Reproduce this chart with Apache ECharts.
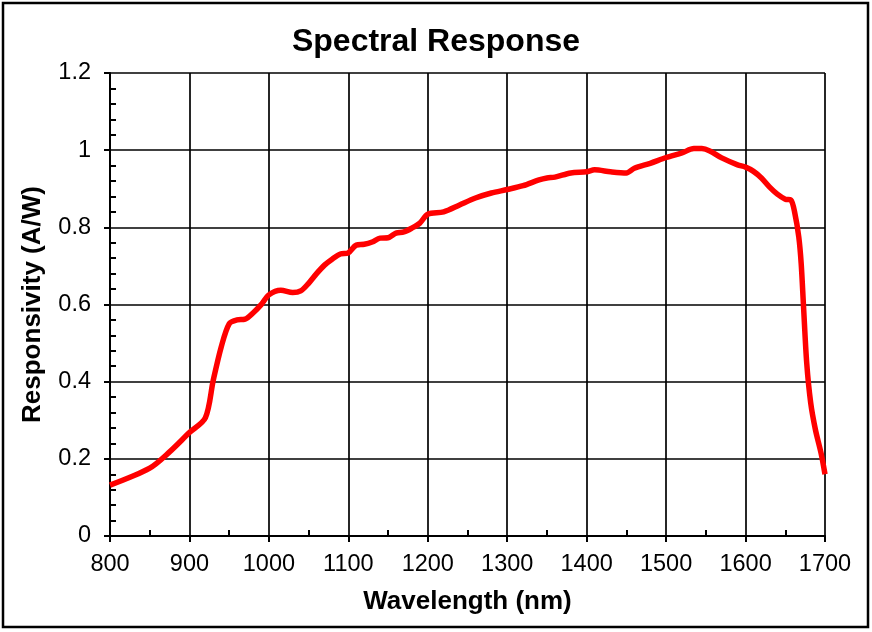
<!DOCTYPE html>
<html>
<head>
<meta charset="utf-8">
<script src="https://cdn.jsdelivr.net/npm/echarts@6/dist/echarts.min.js"></script>
<style>html,body{margin:0;padding:0;background:#fff;}#c{width:872px;height:632px;}</style>
</head>
<body>
<div id="c"></div>
<script>
const wavelengths = [800,850,875,900,920,930,940,950,960,970,980,990,1000,1015,1030,1040,1050,1060,1070,1080,1090,1100,1110,1120,1130,1140,1150,1160,1170,1180,1190,1200,1220,1240,1260,1280,1300,1320,1340,1350,1360,1380,1400,1410,1430,1450,1460,1480,1500,1520,1535,1545,1555,1570,1590,1600,1610,1620,1630,1640,1650,1657,1662,1667,1670,1673,1677,1682,1688,1695,1700];
const responsivity = [0.132,0.176,0.218,0.268,0.306,0.404,0.49,0.55,0.56,0.562,0.578,0.599,0.625,0.637,0.631,0.635,0.655,0.68,0.702,0.718,0.731,0.734,0.754,0.756,0.762,0.772,0.773,0.785,0.788,0.798,0.811,0.834,0.84,0.858,0.876,0.889,0.898,0.908,0.923,0.928,0.93,0.941,0.944,0.949,0.944,0.941,0.953,0.966,0.981,0.993,1.004,1.004,0.998,0.98,0.962,0.956,0.945,0.928,0.905,0.886,0.873,0.871,0.837,0.775,0.707,0.594,0.448,0.345,0.275,0.215,0.16];
const titleText = "Spectral Response";
const xName = "Wavelength (nm)";
const yName = "Responsivity (A/W)";

const chart = echarts.init(document.getElementById('c'));
const font = '"Liberation Sans", Arial, sans-serif';
chart.setOption({
  animation: false,
  backgroundColor: '#fff',
  title: {
    text: titleText, left: 'center', top: 21,
    textStyle: {fontFamily: font, fontSize: 32, fontWeight: 'bold', color: '#000'}
  },
  grid: {left: 110, right: 47, top: 73, bottom: 96},
  xAxis: {
    type: 'value', min: 800, max: 1700, interval: 100,
    name: xName, nameLocation: 'middle', nameGap: 53,
    nameTextStyle: {fontFamily: font, fontSize: 26, fontWeight: 'bold', color: '#000'},
    axisLine: {show: true, lineStyle: {color: '#000', width: 2}},
    axisTick: {show: true, inside: false, length: 6, lineStyle: {color: '#000', width: 2}},
    minorTick: {show: true, splitNumber: 2, length: -6, lineStyle: {color: '#000', width: 2}},
    axisLabel: {fontFamily: font, fontSize: 23.5, color: '#000', margin: 17, formatter: v => String(v)},
    splitLine: {show: true, lineStyle: {color: '#000', width: 1.7}}
  },
  yAxis: {
    type: 'value', min: 0, max: 1.2, interval: 0.2,
    name: yName, nameLocation: 'middle', nameGap: 64, nameRotate: 90,
    nameTextStyle: {fontFamily: font, fontSize: 26, fontWeight: 'bold', color: '#000'},
    axisLine: {show: true, lineStyle: {color: '#000', width: 2}},
    axisTick: {show: true, inside: false, length: 6, lineStyle: {color: '#000', width: 2}},
    minorTick: {show: true, splitNumber: 5, length: -6, lineStyle: {color: '#000', width: 2}},
    axisLabel: {fontFamily: font, fontSize: 23.5, color: '#000', margin: 19},
    splitLine: {show: true, lineStyle: {color: '#000', width: 1.7}}
  },
  graphic: [{
    type: 'rect', shape: {x: 3, y: 3, width: 865, height: 624},
    style: {fill: 'none', stroke: '#000', lineWidth: 2.5}, z: 100
  }],
  series: [{
    type: 'line',
    data: wavelengths.map((w, i) => [w, responsivity[i]]),
    smooth: 0.3,
    showSymbol: false,
    lineStyle: {color: '#ff0000', width: 5.5},
    z: 10
  }]
});
</script>
</body>
</html>
